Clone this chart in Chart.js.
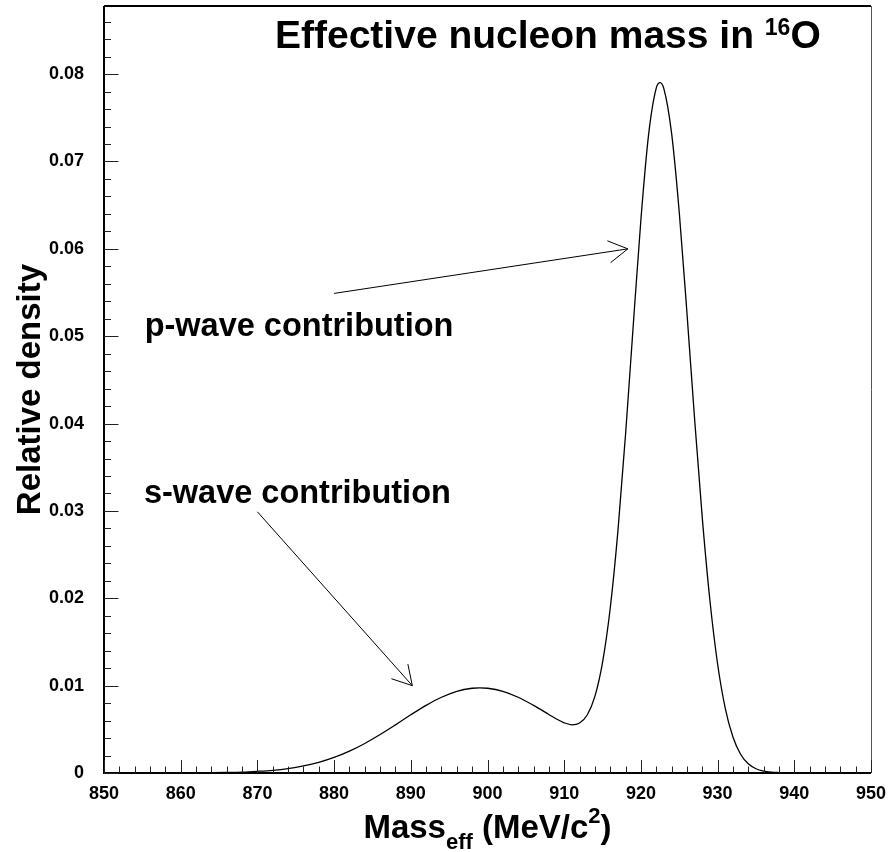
<!DOCTYPE html>
<html>
<head>
<meta charset="utf-8">
<title>Effective nucleon mass in 16O</title>
<script src="https://cdn.jsdelivr.net/npm/chart.js@4.4.0/dist/chart.umd.min.js"></script>
<style>
  html, body { margin: 0; padding: 0; background: #fff; }
  canvas { display: block; }
</style>
</head>
<body>
<canvas id="massChart" width="889" height="852"></canvas>
<script>
// Effective mass (MeV/c^2) and relative density of the nucleon in 16O
const massMeV = [
  850, 852, 854, 856, 858, 860, 862, 864, 866, 868, 870, 872, 874, 876, 878,
  880, 882, 884, 886, 888, 890, 892, 894, 896, 898, 899, 900, 902, 904, 906,
  908, 909, 910, 911, 912, 913, 914, 915, 916, 917, 918, 919, 920, 921, 922,
  922.5, 923, 924, 925, 926, 927, 928, 929, 930, 931, 932, 933, 934, 935, 936,
  937, 938, 939, 940, 942, 944, 946, 948, 950
];
const density = [
  0, 0, 0, 0, 0, 0.00001, 0.00002, 0.00003, 0.00006, 0.0001, 0.00019, 0.00031, 0.00051, 0.00081, 0.00122,
  0.00178, 0.0025, 0.00338, 0.0044, 0.00551, 0.00666, 0.00774, 0.00867, 0.00935, 0.0097, 0.00975, 0.0097, 0.00935, 0.00867, 0.00774,
  0.0067, 0.00618, 0.00575, 0.00552, 0.00572, 0.00664, 0.00877, 0.01267, 0.01886, 0.02766, 0.03877, 0.05122, 0.06334, 0.07304, 0.07839,
  0.07902, 0.07831, 0.07324, 0.06419, 0.05271, 0.04055, 0.02923, 0.01974, 0.01248, 0.00741, 0.00412, 0.00215, 0.00105, 0.00049, 0.00022,
  0.0001, 0.00005, 0.00002, 0.00001, 0, 0, 0, 0, 0
];

// axis ticks
const xTickValues = [850, 860, 870, 880, 890, 900, 910, 920, 930, 940, 950];
const yTickValues = [0, 0.01, 0.02, 0.03, 0.04, 0.05, 0.06, 0.07, 0.08];

// labels and arrows, in data coordinates
const noteLabels = ['p-wave contribution', 's-wave contribution'];
const noteAnchors = [[855.3, 0.05], [855.2, 0.0309]];
const arrowTails = [[880, 0.0549], [870, 0.0299]];
const arrowTips = [[918.3, 0.06], [890.2, 0.01]];

const FONT = "'Liberation Sans', Arial, Helvetica, sans-serif";

// draw a run of text pieces (with sub/superscripts) on one baseline
function drawRichText(ctx, parts, x, y, align) {
  let total = 0;
  parts.forEach(p => {
    ctx.font = 'bold ' + p.size + 'px ' + FONT;
    p.w = ctx.measureText(p.t).width;
    total += p.w;
  });
  let cx = align === 'center' ? x - total / 2 : x;
  ctx.textAlign = 'left';
  ctx.textBaseline = 'alphabetic';
  parts.forEach(p => {
    ctx.font = 'bold ' + p.size + 'px ' + FONT;
    ctx.fillText(p.t, cx, y + (p.dy || 0));
    cx += p.w;
  });
}

function drawArrow(ctx, x0, y0, x1, y1) {
  const ang = Math.atan2(y1 - y0, x1 - x0);
  const len = 22, spread = Math.PI / 6;
  ctx.beginPath();
  ctx.moveTo(x0, y0);
  ctx.lineTo(x1, y1);
  ctx.moveTo(x1 - len * Math.cos(ang - spread), y1 - len * Math.sin(ang - spread));
  ctx.lineTo(x1, y1);
  ctx.lineTo(x1 - len * Math.cos(ang + spread), y1 - len * Math.sin(ang + spread));
  ctx.stroke();
}

// frame, inward ticks, axis titles and notes
const framePlugin = {
  id: 'rootFrame',
  afterDraw(chart) {
    const ctx = chart.ctx;
    const a = chart.chartArea;
    const xs = chart.scales.x, ys = chart.scales.y;
    ctx.save();
    ctx.fillStyle = '#000';
    ctx.strokeStyle = '#000';

    // frame
    ctx.lineWidth = 2;
    ctx.beginPath();
    ctx.moveTo(a.left, a.top);
    ctx.lineTo(a.left, a.bottom);
    ctx.lineTo(a.right, a.bottom);
    ctx.moveTo(a.left, a.top);
    ctx.lineTo(a.right, a.top);
    ctx.stroke();
    ctx.lineWidth = 1;
    ctx.strokeStyle = '#555';
    ctx.beginPath();
    ctx.moveTo(a.right + 0.5, a.top);
    ctx.lineTo(a.right + 0.5, a.bottom);
    ctx.stroke();

    // ticks
    ctx.strokeStyle = '#222';
    ctx.lineWidth = 1;
    ctx.beginPath();
    for (let v = 850; v <= 950; v += 2) {
      const px = Math.round(xs.getPixelForValue(v)) + 0.5;
      const len = v % 10 === 0 ? 13 : 6.5;
      ctx.moveTo(px, a.bottom);
      ctx.lineTo(px, a.bottom - len);
    }
    for (let i = 0; i * 0.002 <= ys.max; i++) {
      const py = Math.round(ys.getPixelForValue(i * 0.002)) + 0.5;
      const len = i % 5 === 0 ? 14.5 : 7;
      ctx.moveTo(a.left, py);
      ctx.lineTo(a.left + len, py);
    }
    ctx.stroke();

    // notes and arrows
    ctx.strokeStyle = '#000';
    ctx.lineWidth = 1;
    arrowTails.forEach((t, i) => {
      drawArrow(ctx,
        xs.getPixelForValue(t[0]), ys.getPixelForValue(t[1]),
        xs.getPixelForValue(arrowTips[i][0]), ys.getPixelForValue(arrowTips[i][1]));
    });
    noteLabels.forEach((txt, i) => {
      drawRichText(ctx, [{ t: txt, size: 32.5 }],
        xs.getPixelForValue(noteAnchors[i][0]), ys.getPixelForValue(noteAnchors[i][1]), 'left');
    });

    // title
    drawRichText(ctx, [
      { t: 'Effective nucleon mass in ', size: 39 },
      { t: '16', size: 23, dy: -13 },
      { t: 'O', size: 39 }
    ], 275, 48, 'left');

    // x axis title
    drawRichText(ctx, [
      { t: 'Mass', size: 33 },
      { t: 'eff', size: 22, dy: 11 },
      { t: ' (MeV/c', size: 33 },
      { t: '2', size: 22, dy: -15 },
      { t: ')', size: 33 }
    ], (a.left + a.right) / 2, 838, 'center');

    // y axis title
    ctx.save();
    ctx.translate(40, (a.top + a.bottom) / 2);
    ctx.rotate(-Math.PI / 2);
    drawRichText(ctx, [{ t: 'Relative density', size: 33 }], 0, 0, 'center');
    ctx.restore();

    ctx.restore();
  }
};

const tickFont = { family: FONT, size: 18, weight: 'bold' };

new Chart(document.getElementById('massChart'), {
  type: 'line',
  data: {
    datasets: [{
      data: massMeV.map((m, i) => ({ x: m, y: density[i] })),
      borderColor: '#000',
      borderWidth: 1.3,
      pointRadius: 0,
      fill: false,
      cubicInterpolationMode: 'monotone'
    }]
  },
  options: {
    responsive: false,
    animation: false,
    devicePixelRatio: 1,
    layout: { padding: { top: 6, right: 18, left: 0, bottom: 0 } },
    plugins: {
      legend: { display: false },
      tooltip: { enabled: false },
      title: { display: false }
    },
    scales: {
      x: {
        type: 'linear',
        min: 850,
        max: 950,
        grid: { display: false, drawTicks: false },
        border: { display: false },
        afterBuildTicks: s => { s.ticks = xTickValues.map(v => ({ value: v })); },
        afterFit: s => { s.height = 79; s.paddingLeft = 0; s.paddingRight = 0; },
        ticks: {
          padding: 10,
          color: '#000',
          font: tickFont,
          maxRotation: 0,
          autoSkip: false,
          callback: v => String(v)
        }
      },
      y: {
        type: 'linear',
        min: 0,
        max: 0.0878,
        grid: { display: false, drawTicks: false },
        border: { display: false },
        afterBuildTicks: s => { s.ticks = yTickValues.map(v => ({ value: v })); },
        afterFit: s => { s.width = 104; s.paddingTop = 0; s.paddingBottom = 0; },
        ticks: {
          padding: 20,
          color: '#000',
          font: tickFont,
          autoSkip: false,
          callback: v => v === 0 ? '0' : v.toFixed(2)
        }
      }
    }
  },
  plugins: [framePlugin]
});
</script>
</body>
</html>
